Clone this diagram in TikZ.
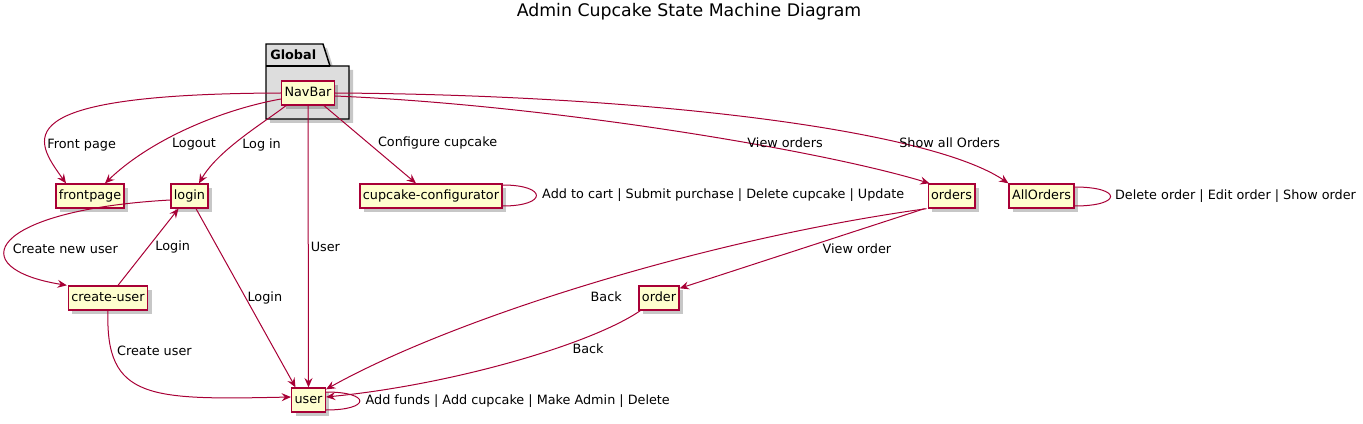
\documentclass[tikz,border=0pt]{standalone}
\usepackage{fontspec}
\setmainfont{DejaVu Sans}
\usetikzlibrary{arrows.meta,positioning,calc,shadows}
\definecolor{umlred}{HTML}{A80036}
\definecolor{umlfill}{HTML}{FEFECE}
\definecolor{pkggray}{HTML}{DDDDDD}

\begin{document}
\begin{tikzpicture}[
    x=0.75pt, y=-0.75pt,
    state/.style={rectangle, draw=umlred, fill=umlfill, line width=1pt, minimum height=18pt, inner xsep=2.2pt, inner ysep=0pt, text height=7.3pt, text depth=2pt, font=\fontsize{9.6}{11}\selectfont, drop shadow={shadow xshift=3pt, shadow yshift=-3pt, fill=black, opacity=0.22}},
    pkg/.style={draw=black, fill=pkggray, line width=1.1pt, drop shadow={shadow xshift=3pt, shadow yshift=-3pt, fill=black, opacity=0.22}},
    arrow/.style={-{Stealth[length=7pt, width=6pt, inset=2.5pt]}, umlred, line width=0.75pt},
    selfloop/.style={umlred, line width=0.75pt},
    lbl/.style={text=black, inner sep=0pt, font=\fontsize{9.6}{11}\selectfont}
]
\useasboundingbox (0,0) rectangle (1363,424);

\node[font=\fontsize{13}{15}\selectfont] (title) at (689,12) {Admin Cupcake State Machine Diagram};

\draw[pkg] (266,44) -- (323,44) -- (330,66) -- (349,66) -- (349,119) -- (266,119) -- cycle;
\draw[line width=1.1pt] (266,66) -- (330,66);
\node[anchor=west, inner sep=0pt, font=\fontsize{9.6}{11}\selectfont\bfseries] (global) at (270,55) {Global};

\node[state] (nav) at (308,93) {NavBar};
\node[state] (front) at (90,196) {frontpage};
\node[state] (login) at (189.5,196) {login};
\node[state] (config) at (431,196) {cupcake-configurator};
\node[state] (orders) at (951.5,196) {orders};
\node[state] (allorders) at (1041.5,196) {AllOrders};
\node[state] (create) at (108,298) {create-user};
\node[state] (order) at (659,298) {order};
\node[state] (user) at (308.5,400) {user};

\draw[arrow] (nav.west) .. controls (0,94) and (35,140) .. node[lbl, pos=0.7, right=1pt] {Front page} ($(front.north)+(-24,0)$);
\draw[arrow] ($(nav.west)+(0,6)$) .. controls (220,110) and (150,140) .. node[lbl, pos=0.66, right=10pt] {Logout} ($(front.north)+(15,0)$);
\draw[arrow] ($(nav.south west)+(5,0)$) .. controls (265,122) and (218,150) .. node[lbl, pos=0.58, right=6pt] {Log in} ($(login.north)+(9.5,0)$);
\draw[arrow] (nav.south) -- node[lbl, pos=0.5, right=1.5pt] {User} (user.north);
\draw[arrow] ($(nav.south east)+(-11,0)$) -- node[lbl, pos=0.48, right=7pt] {Configure cupcake} ($(config.north)+(-15,0)$);
\draw[arrow] ($(nav.east)+(0,3)$) .. controls (550,105) and (820,150) .. node[lbl, pos=0.62, right=0pt] {View orders} ($(orders.north west)+(2,0)$);
\draw[arrow] (nav.east) .. controls (650,95) and (930,130) .. node[lbl, pos=0.72, right=0pt] {Show all Orders} ($(allorders.north west)+(0,0)$);

\draw[selfloop] ($(config.east)+(0,-11)$) .. controls +(45,0) and +(45,0) .. node[lbl, pos=0.5, right=4pt] {Add to cart | Submit purchase | Delete cupcake | Update} ($(config.east)+(0,10)$);
\draw[selfloop] ($(allorders.east)+(0,-9)$) .. controls +(48,0) and +(48,0) .. node[lbl, pos=0.5, right=3pt] {Delete order | Edit order | Show order} ($(allorders.east)+(0,10)$);
\draw[selfloop] ($(user.east)+(0,-8)$) .. controls +(45,0) and +(45,0) .. node[lbl, pos=0.5, right=4pt] {Add funds | Add cupcake | Make Admin | Delete} ($(user.east)+(0,10)$);

\draw[arrow] ($(login.west)+(0,4)$) .. controls (-10,210) and (-40,268) .. node[lbl, pos=0.58, right=5pt] {Create new user} ($(create.north west)+(-1,0)$);
\draw[arrow] ($(create.north)+(10,0)$) -- node[lbl, pos=0.5, right=5pt] {Login} ($(login.south)+(-11,0)$);
\draw[arrow] ($(login.south)+(6.5,0)$) -- node[lbl, pos=0.5, right=1pt] {Login} ($(user.north)+(-13,0)$);
\draw[arrow] (create.south) .. controls (105,400) and (150,400) .. node[lbl, pos=0.18, right=4pt] {Create user} ($(user.west)+(0,-3)$);

\draw[arrow] ($(orders.south west)+(-3,0)$) -- node[lbl, pos=0.5, right=15pt] {View order} ($(order.north east)+(0,3)$);
\draw[arrow] ($(orders.south west)+(-1,0)$) .. controls (700,240) and (450,320) .. node[lbl, pos=0.56, right=30pt] {Back} ($(user.north east)+(0,2)$);
\draw[arrow] ($(order.south west)+(2,0)$) .. controls (590,345) and (450,385) .. node[lbl, pos=0.36, right=12pt] {Back} ($(user.east)+(0,-3)$);
\end{tikzpicture}
\end{document}
